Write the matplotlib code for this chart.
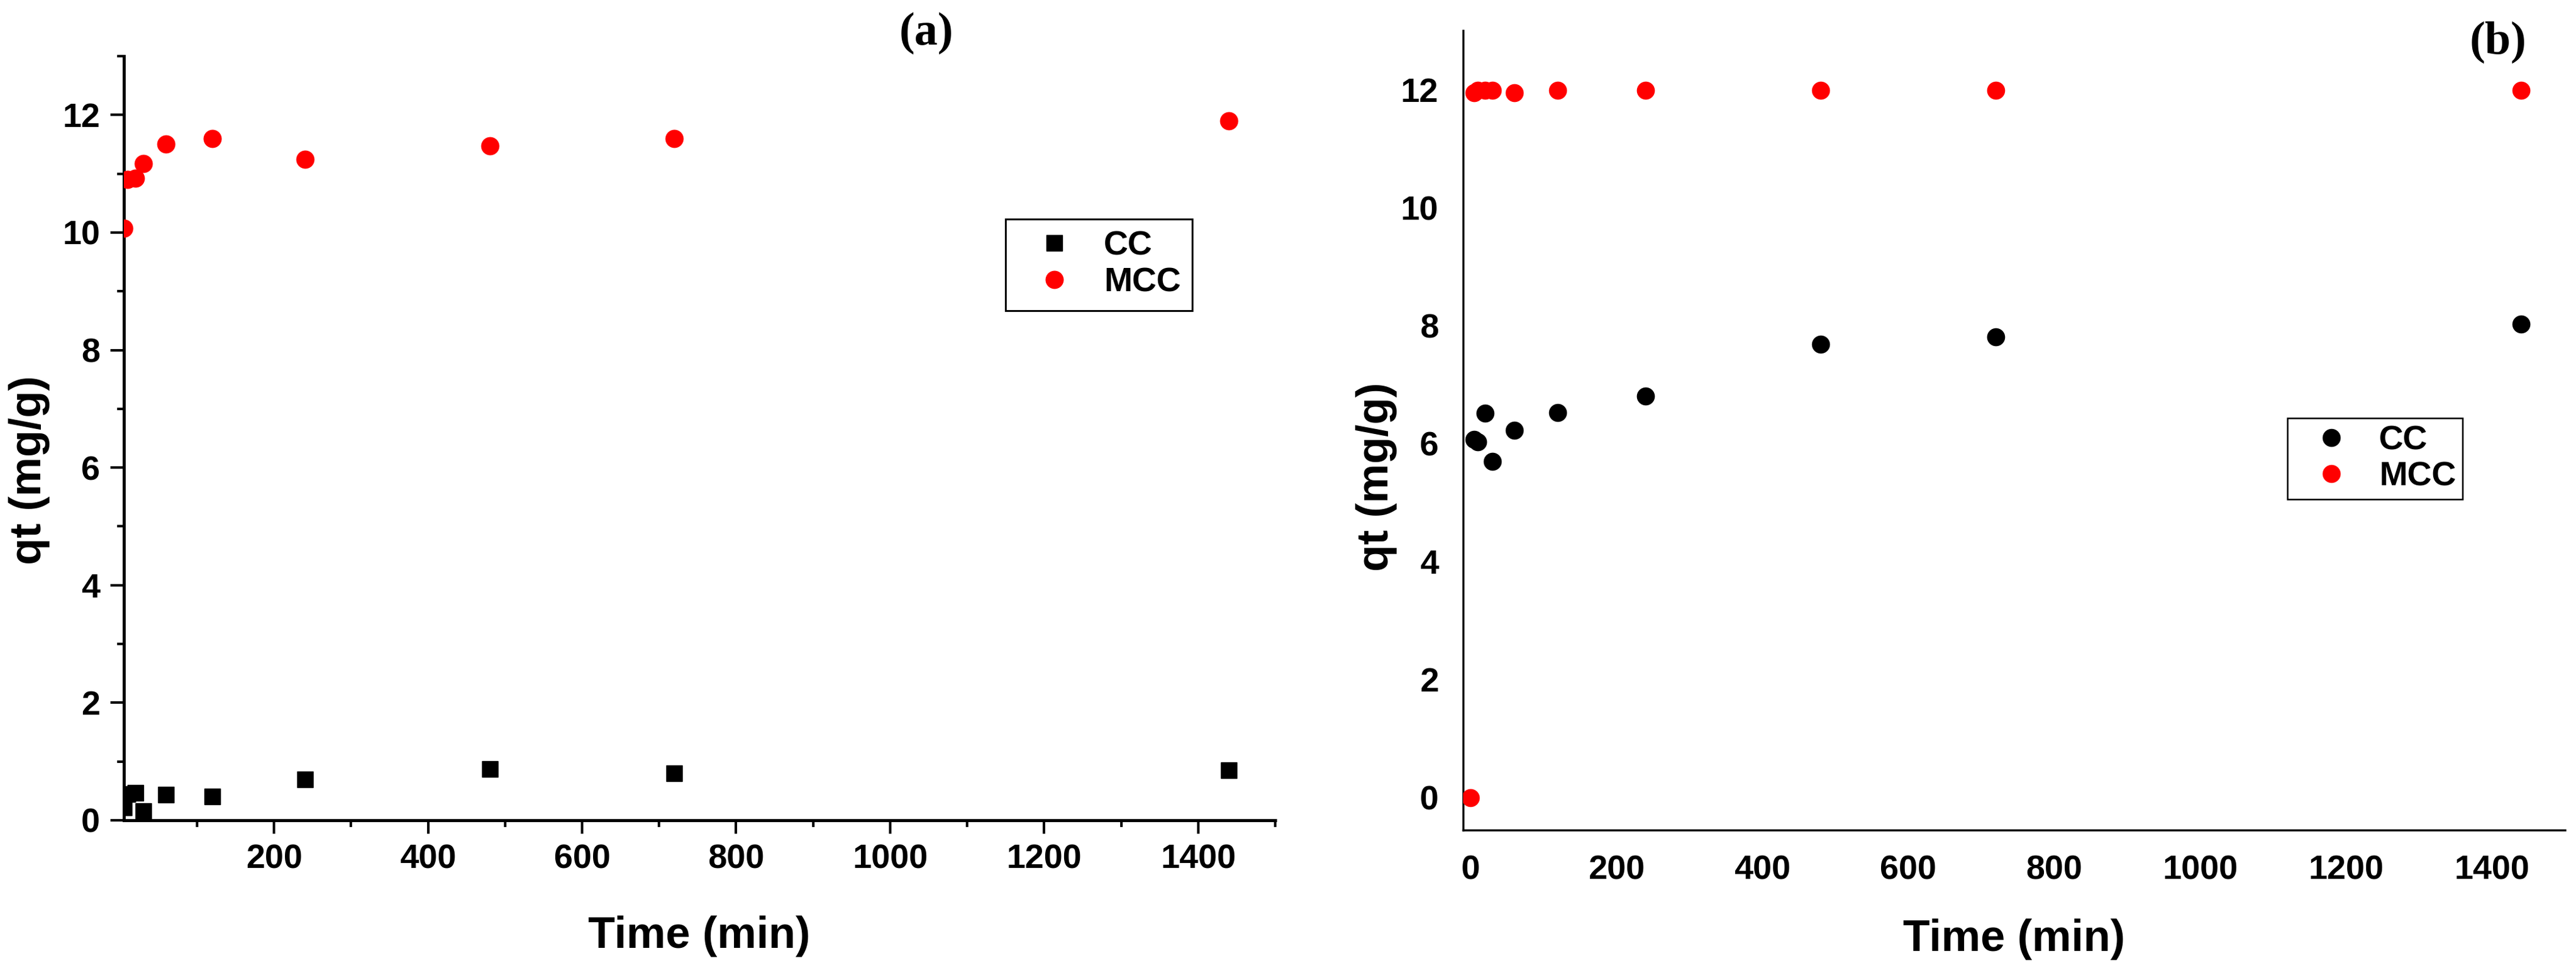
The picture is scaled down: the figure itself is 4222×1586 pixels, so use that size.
import matplotlib
matplotlib.use("Agg")
import matplotlib.pyplot as plt
from matplotlib.ticker import MultipleLocator, FixedLocator

plt.rcParams['font.family'] = ['Liberation Sans', 'DejaVu Sans']
plt.rcParams['font.weight'] = 'bold'

# ---------------- data ----------------
# Panel (a)
time_a_cc = [5, 10, 20, 30, 60, 120, 240, 480, 720, 1440]
qt_a_cc = [0.22, 0.45, 0.47, 0.16, 0.44, 0.41, 0.70, 0.87, 0.80, 0.85]
time_a_mcc = [5, 10, 20, 30, 60, 120, 240, 480, 720, 1440]
qt_a_mcc = [10.07, 10.90, 10.92, 11.17, 11.50, 11.60, 11.25, 11.47, 11.60, 11.90]

# Panel (b)
time_b_cc = [5, 10, 20, 30, 60, 120, 240, 480, 720, 1440]
qt_b_cc = [6.07, 6.03, 6.51, 5.70, 6.23, 6.52, 6.80, 7.68, 7.81, 8.02]
time_b_mcc = [0, 5, 10, 20, 30, 60, 120, 240, 480, 720, 1440]
qt_b_mcc = [0.0, 11.95, 11.99, 11.99, 11.99, 11.94, 11.99, 11.99, 11.99, 11.99, 11.99]

series_names = ["CC", "MCC"]
x_label = "Time (min)"
y_label = "qt (mg/g)"
panel_labels = ["(a)", "(b)"]

W, H = 4222, 1586
fig = plt.figure(figsize=(W / 100, H / 100), dpi=100)


def frac_box(l, t, r, b):
    return [l / W, (H - b) / H, (r - l) / W, (b - t) / H]


TICK_FS = 40
LABEL_FS = 52

# ---------------- panel (a) ----------------
ax1 = fig.add_axes(frac_box(203, 92, 2090, 1344))
ax1.plot(time_a_cc, qt_a_cc, linestyle='none', marker='s', ms=19,
         color='black', label=series_names[0], zorder=3)
ax1.plot(time_a_mcc, qt_a_mcc, linestyle='none', marker='o', ms=21.5,
         color='#ff0000', markeredgewidth=0, label=series_names[1], zorder=3)
ax1.set_xlim(5, 1500)
ax1.set_ylim(0, 13)
ax1.xaxis.set_major_locator(FixedLocator([200, 400, 600, 800, 1000, 1200, 1400]))
ax1.xaxis.set_minor_locator(FixedLocator([100, 300, 500, 700, 900, 1100, 1300, 1500]))
ax1.yaxis.set_major_locator(MultipleLocator(2))
ax1.yaxis.set_minor_locator(MultipleLocator(1))
for s in ['top', 'right']:
    ax1.spines[s].set_visible(False)
for s in ['left', 'bottom']:
    ax1.spines[s].set_linewidth(3.6)
ax1.tick_params(which='major', direction='out', length=16, width=3.0,
                labelsize=TICK_FS, pad=12)
ax1.tick_params(which='minor', direction='out', length=8, width=3.0)
ax1.set_xlabel(x_label, fontsize=LABEL_FS, fontweight='bold')
ax1.set_ylabel(y_label, fontsize=LABEL_FS, fontweight='bold')
ax1.xaxis.set_label_coords(0.5, -0.125)
ax1.yaxis.set_label_coords(-0.064, 0.458)
leg1 = ax1.legend(loc='upper left', bbox_to_anchor=(0.766, 0.787),
                  borderaxespad=0, fontsize=TICK_FS, frameon=True,
                  fancybox=False, edgecolor='black', framealpha=1,
                  borderpad=0.34, handlelength=2.2, handletextpad=0.35,
                  labelspacing=0.15, markerscale=1.0)
leg1.get_frame().set_linewidth(2.2)
for t in leg1.get_texts():
    t.set_fontweight('bold')

# ---------------- panel (b) ----------------
ax2 = fig.add_axes(frac_box(2398, 50, 4204, 1360))
ax2.plot(time_b_cc, qt_b_cc, linestyle='none', marker='o', ms=21.3,
         color='black', markeredgewidth=0, label=series_names[0], zorder=3)
ax2.plot(time_b_mcc, qt_b_mcc, linestyle='none', marker='o', ms=21.3,
         color='#ff0000', markeredgewidth=0, label=series_names[1], zorder=4)
ax2.set_xlim(-10, 1500)
ax2.set_ylim(-0.55, 13)
ax2.xaxis.set_major_locator(FixedLocator([0, 200, 400, 600, 800, 1000, 1200, 1400]))
ax2.yaxis.set_major_locator(FixedLocator([0, 2, 4, 6, 8, 10, 12]))
for s in ['top', 'right']:
    ax2.spines[s].set_visible(False)
for s in ['left', 'bottom']:
    ax2.spines[s].set_linewidth(2.5)
ax2.tick_params(which='major', length=0, labelsize=TICK_FS, pad=29)
ax2.set_xlabel(x_label, fontsize=LABEL_FS, fontweight='bold')
ax2.set_ylabel(y_label, fontsize=LABEL_FS, fontweight='bold')
ax2.xaxis.set_label_coords(0.5, -0.111)
ax2.yaxis.set_label_coords(-0.06, 0.442)
leg2 = ax2.legend(loc='upper left', bbox_to_anchor=(0.748, 0.515),
                  borderaxespad=0, fontsize=TICK_FS, frameon=True,
                  fancybox=False, edgecolor='black', framealpha=1,
                  borderpad=0.2, handlelength=2.2, handletextpad=0.3,
                  labelspacing=0.12, markerscale=1.0)
leg2.get_frame().set_linewidth(1.8)
for t in leg2.get_texts():
    t.set_fontweight('bold')

for lab in ax1.get_xticklabels() + ax1.get_yticklabels() + ax2.get_xticklabels() + ax2.get_yticklabels():
    lab.set_fontweight('bold')

# panel labels
fig.text(1518 / W, 1 - 54 / H, panel_labels[0], fontsize=55, fontweight='bold',
         family=['Liberation Serif', 'DejaVu Serif'], ha='center', va='center')
fig.text(4094 / W, 1 - 69 / H, panel_labels[1], fontsize=55, fontweight='bold',
         family=['Liberation Serif', 'DejaVu Serif'], ha='center', va='center')

fig.savefig("out.png", dpi=100, facecolor='white')
